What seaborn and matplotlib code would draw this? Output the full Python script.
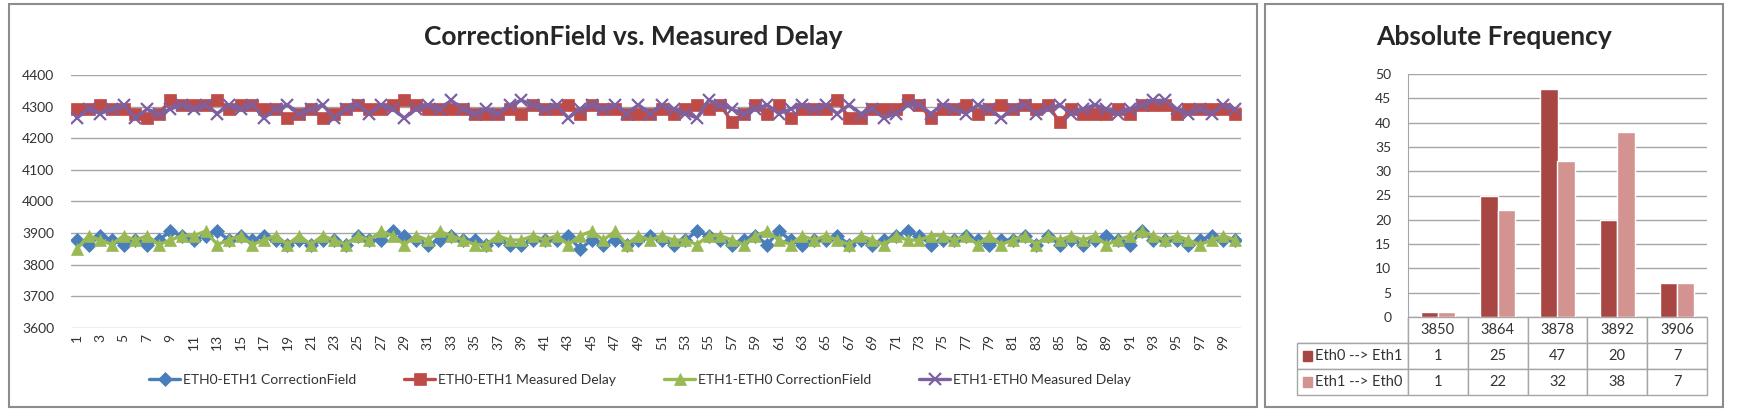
import numpy as np
import pandas as pd
import seaborn as sns
import matplotlib.pyplot as plt
from matplotlib.patches import Rectangle

# samples 1..100 of the four series (ns)
samples = list(range(1, 101))
eth0_eth1_cf = [3878, 3864, 3892, 3878, 3864, 3878, 3864, 3878, 3906, 3892,
                3878, 3892, 3906, 3878, 3892, 3878, 3892, 3878, 3864, 3878,
                3864, 3878, 3878, 3864, 3892, 3878, 3878, 3906, 3892, 3878,
                3864, 3878, 3892, 3878, 3878, 3864, 3878, 3864, 3864, 3878,
                3878, 3878, 3892, 3850, 3878, 3864, 3878, 3864, 3878, 3892,
                3878, 3864, 3878, 3906, 3892, 3878, 3864, 3878, 3892, 3864,
                3906, 3878, 3864, 3878, 3878, 3892, 3864, 3878, 3864, 3878,
                3892, 3906, 3892, 3864, 3878, 3878, 3892, 3878, 3864, 3878,
                3878, 3892, 3864, 3892, 3864, 3878, 3864, 3878, 3892, 3878,
                3864, 3906, 3878, 3878, 3878, 3864, 3878, 3892, 3878, 3878]
eth0_eth1_delay = [4292, 4292, 4306, 4292, 4292, 4278, 4264, 4278, 4320, 4306,
                   4306, 4306, 4320, 4292, 4306, 4306, 4292, 4292, 4264, 4278,
                   4292, 4264, 4278, 4292, 4306, 4292, 4292, 4306, 4320, 4306,
                   4292, 4292, 4292, 4292, 4278, 4278, 4278, 4292, 4278, 4306,
                   4292, 4292, 4306, 4278, 4306, 4292, 4292, 4278, 4278, 4278,
                   4292, 4278, 4292, 4306, 4292, 4306, 4250, 4278, 4306, 4278,
                   4306, 4264, 4292, 4292, 4292, 4320, 4264, 4264, 4292, 4292,
                   4292, 4320, 4306, 4264, 4292, 4292, 4306, 4278, 4292, 4306,
                   4292, 4306, 4292, 4306, 4250, 4292, 4278, 4278, 4278, 4292,
                   4278, 4306, 4306, 4306, 4278, 4292, 4292, 4292, 4292, 4278]
eth1_eth0_cf = [3850, 3892, 3878, 3864, 3892, 3878, 3892, 3864, 3878, 3892,
                3892, 3906, 3864, 3878, 3892, 3864, 3878, 3892, 3864, 3892,
                3864, 3892, 3878, 3864, 3892, 3878, 3906, 3892, 3864, 3892,
                3878, 3906, 3892, 3878, 3864, 3864, 3892, 3878, 3878, 3892,
                3878, 3892, 3864, 3892, 3906, 3878, 3906, 3864, 3892, 3878,
                3892, 3878, 3878, 3864, 3892, 3892, 3878, 3864, 3892, 3906,
                3878, 3864, 3892, 3878, 3892, 3878, 3864, 3892, 3878, 3864,
                3892, 3878, 3878, 3892, 3892, 3878, 3892, 3864, 3892, 3864,
                3878, 3892, 3864, 3892, 3878, 3892, 3878, 3892, 3864, 3878,
                3892, 3906, 3892, 3878, 3892, 3878, 3864, 3878, 3892, 3878]
eth1_eth0_delay = [4264, 4292, 4278, 4292, 4306, 4264, 4292, 4278, 4292, 4306,
                   4292, 4306, 4278, 4306, 4292, 4306, 4264, 4292, 4306, 4278,
                   4292, 4306, 4264, 4292, 4306, 4278, 4306, 4292, 4264, 4292,
                   4306, 4292, 4320, 4292, 4278, 4292, 4278, 4306, 4320, 4306,
                   4292, 4306, 4264, 4292, 4306, 4292, 4306, 4278, 4306, 4278,
                   4306, 4292, 4278, 4264, 4320, 4306, 4292, 4278, 4292, 4306,
                   4278, 4292, 4306, 4292, 4306, 4278, 4306, 4278, 4292, 4264,
                   4278, 4306, 4306, 4278, 4306, 4292, 4278, 4306, 4292, 4264,
                   4292, 4306, 4278, 4292, 4306, 4278, 4292, 4306, 4292, 4278,
                   4292, 4306, 4320, 4320, 4292, 4278, 4292, 4278, 4306, 4292]

# histogram of the correction field
bins = ['3850', '3864', '3878', '3892', '3906']
freq_eth0_eth1 = [1, 25, 47, 20, 7]
freq_eth1_eth0 = [1, 22, 32, 38, 7]

sns.set_style('white')
plt.rcParams['font.family'] = ['Lato', 'DejaVu Sans']

fig = plt.figure(figsize=(17.4, 4.18), dpi=100)
W, H = 1740, 418

def px_box(x0, y0, x1, y1):
    return [x0 / W, 1 - y1 / H, (x1 - x0) / W, (y1 - y0) / H]

# chart frames
for box in (px_box(9, 4, 1257, 407), px_box(1265, 4, 1723, 407)):
    fig.patches.append(Rectangle(box[:2], box[2], box[3], transform=fig.transFigure,
                                 fill=False, edgecolor='#8c8c8c', linewidth=1.5))

grid_col = '#a6a6a6'

# ---- line chart
ax = fig.add_axes(px_box(71, 75, 1241, 328))
series = [
    ('ETH0-ETH1 CorrectionField', eth0_eth1_cf, '#4a7ebb', 'D', 7),
    ('ETH0-ETH1 Measured Delay', eth0_eth1_delay, '#be4b48', 's', 8),
    ('ETH1-ETH0 CorrectionField', eth1_eth0_cf, '#98b954', '^', 9),
    ('ETH1-ETH0 Measured Delay', eth1_eth0_delay, '#7d60a0', 'x', 8),
]
for name, vals, col, mk, ms in series:
    sns.lineplot(x=samples, y=vals, ax=ax, color=col, marker=mk, markersize=ms,
                 markeredgecolor=col, markeredgewidth=1.6 if mk == 'x' else 0.5,
                 linewidth=2.4, label=name, legend=False)
ax.set_xlim(0.5, 100.5)
ax.set_ylim(3600, 4400)
ax.set_yticks(range(3600, 4401, 100))
ax.set_xticks(samples[::2])
ax.set_xticklabels([str(s) for s in samples[::2]], rotation=90)
ax.tick_params(axis='both', length=0, labelsize=10, colors='#333333')
ax.tick_params(axis='x', pad=4)
ax.tick_params(axis='y', pad=12)
ax.grid(axis='y', color=grid_col, linewidth=1)
for s in ax.spines.values():
    s.set_visible(False)
ax.set_xlabel('')
ax.set_ylabel('')
handles, labels = ax.get_legend_handles_labels()
fig.legend(handles, labels, loc='center', bbox_to_anchor=(640 / W, 1 - 380 / H), ncol=4,
           frameon=False, fontsize=10, columnspacing=3.5, handlelength=2.2,
           handletextpad=0.2, labelcolor='#333333')
fig.text(633 / W, 1 - 37 / H, 'CorrectionField vs. Measured Delay', ha='center', va='center',
         fontsize=19, fontweight='bold')

# ---- frequency chart
bx = fig.add_axes(px_box(1408, 74, 1707, 317))
freq = pd.DataFrame({
    'bin': bins * 2,
    'count': freq_eth0_eth1 + freq_eth1_eth0,
    'dir': ['Eth0 --> Eth1'] * len(bins) + ['Eth1 --> Eth0'] * len(bins),
})
bar_cols = ['#a84644', '#d39391']
sns.barplot(data=freq, x='bin', y='count', hue='dir', palette=bar_cols, width=0.58,
            gap=0, ax=bx, legend=False, saturation=1)
bx.set_xlim(-0.5, 4.5)
bx.set_ylim(0, 50)
bx.set_yticks(range(0, 51, 5))
bx.set_xticks([])
bx.set_xlabel('')
bx.set_ylabel('')
bx.tick_params(axis='y', length=0, labelsize=10, colors='#333333', pad=12)
bx.grid(axis='y', color=grid_col, linewidth=1)
bx.set_axisbelow(True)
for k in ('top', 'right', 'bottom'):
    bx.spines[k].set_visible(False)
bx.spines['left'].set_color(grid_col)

# data table under the bars
row_h = 26 / 243
lab_w = 111 / 299
cells = [[''] + bins,
         [''] + [str(v) for v in freq_eth0_eth1],
         [''] + [str(v) for v in freq_eth1_eth0]]
tbl = bx.table(cellText=cells, cellLoc='center',
               colWidths=[lab_w] + [0.2] * 5,
               bbox=[-lab_w, -3 * row_h, 1 + lab_w, 3 * row_h])
tbl.auto_set_font_size(False)
tbl.set_fontsize(10.5)
for (r, c), cell in tbl.get_celld().items():
    cell.set_edgecolor(grid_col)
    cell.get_text().set_color('#333333')
    if r == 0 and c == 0:
        cell.visible_edges = 'BR'
for i, (lab, col) in enumerate(zip(['Eth0 --> Eth1', 'Eth1 --> Eth0'], bar_cols)):
    yc = -(1.5 + i) * row_h
    bx.add_patch(Rectangle((-0.352, yc - 0.019), 0.03, 0.038, transform=bx.transAxes,
                           color=col, clip_on=False))
    bx.text(-0.31, yc, lab, transform=bx.transAxes, ha='left', va='center',
            fontsize=10.5, color='#333333')

fig.text(1494 / W, 1 - 37 / H, 'Absolute Frequency', ha='center', va='center',
         fontsize=19, fontweight='bold')

fig.savefig('out.png', dpi=100)
